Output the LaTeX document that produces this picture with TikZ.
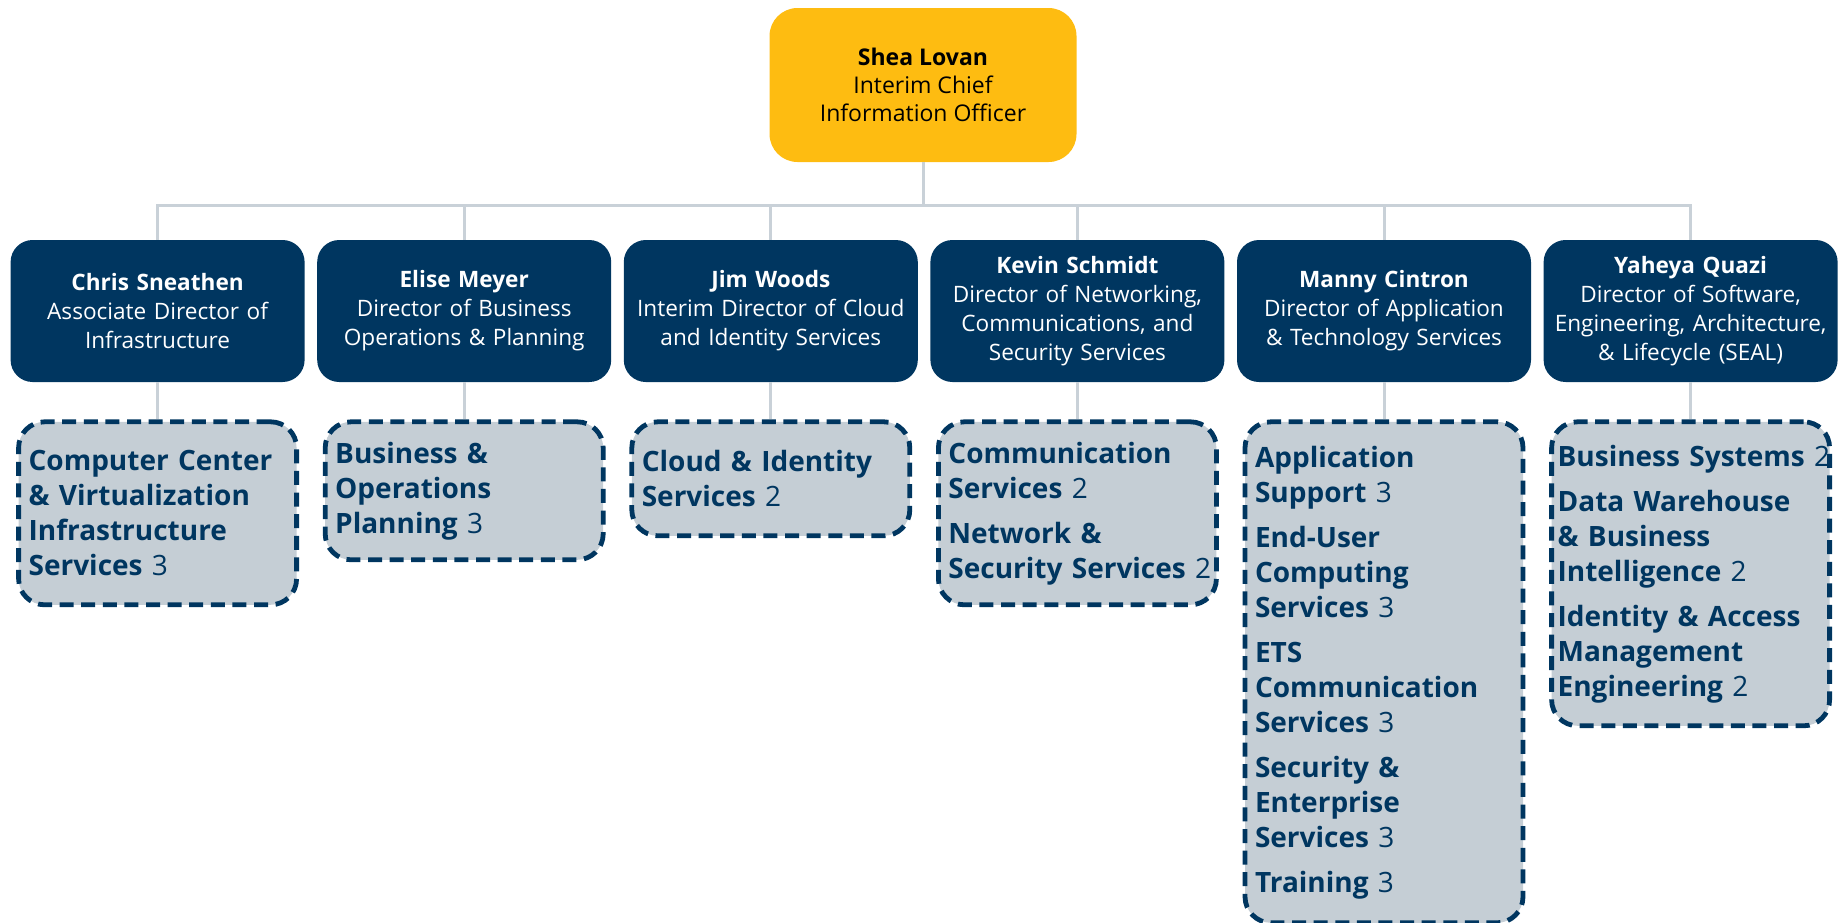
\documentclass[tikz,border=0pt]{standalone}
\usepackage{fontspec}
\setmainfont{Open Sans}
\usetikzlibrary{positioning}
\definecolor{navy}{HTML}{003660}
\definecolor{gold}{HTML}{FEBC11}
\definecolor{mist}{HTML}{C5CED5}
\definecolor{linegray}{HTML}{C9D1D8}
\newcommand{\hc}[1]{{\mdseries#1}}
\hyphenpenalty=10000

\begin{document}
\begin{tikzpicture}[
    chief/.style = {fill=gold, rounded corners=14pt, minimum width=153.5pt,
        minimum height=77pt, align=center, font=\fontsize{11.5}{14}\selectfont},
    director/.style = {fill=navy, text=white, rounded corners=11pt,
        minimum height=71pt, text width=144pt, inner xsep=1.5pt, align=center,
        font=\fontsize{11.3}{14.5}\selectfont},
    team/.style = {draw=navy, line width=2.4pt, dash pattern=on 7pt off 3.8pt,
        fill=mist, rounded corners=13pt, text=navy, text width=129pt,
        inner xsep=5pt, align=left, font=\bfseries\fontsize{14}{17.5}\selectfont},
    link/.style = {draw=linegray, line width=1.5pt}]
\useasboundingbox (0,0) rectangle (922.5pt,-461pt);
\node[chief] (shea) at (461.5pt,-42.5pt)
    {{\bfseries Shea Lovan}\\Interim Chief\\Information Officer};
\node[director] (chris) at (78.8pt,-155.5pt)
    {{\bfseries Chris Sneathen}\\Associate Director of\\Infrastructure};
\node[director, right=5.9pt of chris] (elise)
    {{\bfseries Elise Meyer}\\Director of Business\\Operations \& Planning};
\node[director, right=5.9pt of elise] (jim)
    {{\bfseries Jim Woods}\\Interim~Director~of~Cloud\\and Identity Services};
\node[director, right=5.9pt of jim] (kevin)
    {{\bfseries Kevin Schmidt}\\Director~of~Networking,\\Communications,~and\\Security Services};
\node[director, right=5.9pt of kevin] (manny)
    {{\bfseries Manny Cintron}\\Director~of~Application\\\&~Technology~Services};
\node[director, right=5.9pt of manny] (yaheya)
    {{\bfseries Yaheya Quazi}\\Director~of~Software,\\Engineering,~Architecture,\\\&~Lifecycle~(SEAL)};

\node[team, below=18.5pt of chris, minimum height=91.5pt] (ccvis)
    {Computer~Center\\\&~Virtualization\\Infrastructure\\Services~\hc{3}};
\node[team, below=18.5pt of elise, minimum height=69pt] (bizops)
    {Business~\&\\Operations\\Planning~\hc{3}};
\node[team, below=18.5pt of jim, minimum height=57pt] (cloud)
    {Cloud~\&~Identity\\Services~\hc{2}};
\node[team, below=18.5pt of kevin, minimum height=91.5pt] (netsec)
    {Communication\\Services~\hc{2}\\[5pt]Network~\&\\Security~Services~\hc{2}};
\node[team, below=18.5pt of manny, minimum height=250.5pt] (apps)
    {Application\\Support~\hc{3}\\[5pt]End-User\\Computing\\Services~\hc{3}\\[5pt]ETS\\Communication\\Services~\hc{3}\\[5pt]Security~\&\\Enterprise\\Services~\hc{3}\\[5pt]Training~\hc{3}};
\node[team, below=18.5pt of yaheya, minimum height=152pt, inner xsep=3pt, text width=133pt] (seal)
    {Business~Systems~\hc{2}\\[5pt]Data~Warehouse\\\&~Business\\Intelligence~\hc{2}\\[5pt]Identity~\&~Access\\Management\\Engineering~\hc{2}};

\draw[link] (shea.south) -- ++(0,-21.5pt) coordinate (bus);
\foreach \d in {chris,elise,jim,kevin,manny,yaheya}
    \draw[link] (bus) -| (\d.north);
\foreach \d/\t in {chris/ccvis,elise/bizops,jim/cloud,kevin/netsec,manny/apps,yaheya/seal}
    \draw[link] (\d.south) -- (\t.north);
\end{tikzpicture}
\end{document}
